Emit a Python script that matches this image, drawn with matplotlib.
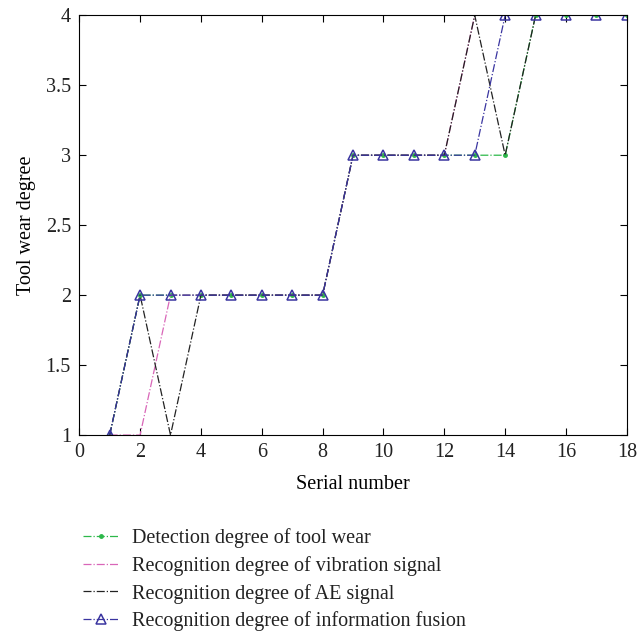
import matplotlib.pyplot as plt

plt.rcParams['font.family'] = ['Liberation Serif', 'DejaVu Serif']
plt.rcParams['text.color'] = '#222222'
plt.rcParams['xtick.labelcolor'] = '#222222'
plt.rcParams['ytick.labelcolor'] = '#222222'

serial = list(range(1, 19))
detection = [1, 2, 2, 2, 2, 2, 2, 2, 3, 3, 3, 3, 3, 3, 4, 4, 4, 4]
vibration = [1, 1, 2, 2, 2, 2, 2, 2, 3, 3, 3, 3, 4, 4, 4, 4, 4, 4]
ae_signal = [1, 2, 1, 2, 2, 2, 2, 2, 3, 3, 3, 3, 4, 3, 4, 4, 4, 4]
fusion = [1, 2, 2, 2, 2, 2, 2, 2, 3, 3, 3, 3, 3, 4, 4, 4, 4, 4]

labels = ['Detection degree of tool wear',
          'Recognition degree of vibration signal',
          'Recognition degree of AE signal',
          'Recognition degree of information fusion']

fig = plt.figure(figsize=(6.39, 6.37), dpi=100)
ax = fig.add_axes([0.124, 0.317, 0.857, 0.659])

ax.plot(serial, detection, color='#2db84a', linestyle='-.', linewidth=0.9,
        marker='o', markersize=2.5, label=labels[0])
ax.plot(serial, vibration, color='#d966b8', linestyle='-.', linewidth=0.9,
        label=labels[1])
ax.plot(serial, ae_signal, color='#222222', linestyle='-.', linewidth=0.9,
        label=labels[2])
ax.plot(serial, fusion, color='#3a35a0', linestyle='-.', linewidth=0.9,
        marker='^', markersize=7.5, markerfacecolor='none',
        markeredgewidth=1.1, label=labels[3])

ax.set_xlim(0, 18)
ax.set_ylim(1, 4)
ax.set_xticks(range(0, 19, 2))
ax.set_yticks([1, 1.5, 2, 2.5, 3, 3.5, 4])
ax.set_yticklabels(['1', '1.5', '2', '2.5', '3', '3.5', '4'])
ax.tick_params(direction='in', top=True, right=True, labelsize=14.5,
               length=5, pad=6)
ax.set_xlabel('Serial number', fontsize=14.5, labelpad=9)
ax.set_ylabel('Tool wear degree', fontsize=14.5, labelpad=7)

fig.legend(loc='upper left', bbox_to_anchor=(0.118, 0.183), frameon=False,
           fontsize=14.5, handlelength=1.75, handletextpad=0.65,
           labelspacing=0.38, borderaxespad=0)

fig.savefig('out.png', dpi=100)
